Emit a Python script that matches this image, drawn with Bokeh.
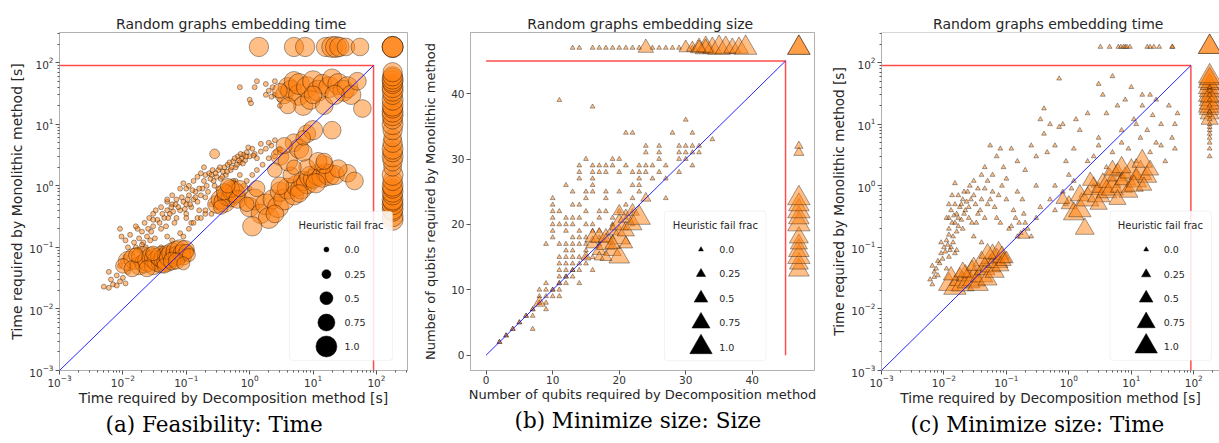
import numpy as np
from bokeh.plotting import figure
from bokeh.models import FixedTicker, Label, Title, BoxAnnotation, Span, ColumnDataSource, Range1d
from bokeh.layouts import row
from bokeh.embed import file_html
from bokeh.resources import INLINE

# ---------------- data ----------------
FAIL_T = 180.0      # value plotted for a failed embedding (time panels)
LIMIT_T = 90.0      # time limit (red lines)
FAIL_Q = 47         # value plotted for a failed embedding (size panel)
LIMIT_Q = 45        # qubit limit (red lines)

legend_fracs = [0.0, 0.25, 0.5, 0.75, 1.0]
legend_labels = ["0.0", "0.25", "0.5", "0.75", "1.0"]

# Panel (a): Feasibility - time ; (x = decomposition, y = monolithic)
a_small = [
    (0.005, 0.023), (0.006, 0.022), (0.007, 0.025), (0.008, 0.024), (0.0065, 0.030), (0.008, 0.035), (0.009, 0.028),
    (0.010, 0.032), (0.011, 0.026), (0.012, 0.040), (0.009, 0.050), (0.010, 0.060), (0.011, 0.070), (0.013, 0.050),
    (0.014, 0.080), (0.012, 0.10), (0.015, 0.12), (0.016, 0.10), (0.018, 0.14), (0.020, 0.18), (0.017, 0.20),
    (0.022, 0.25), (0.019, 0.09), (0.021, 0.12), (0.024, 0.15), (0.025, 0.20), (0.028, 0.18), (0.030, 0.22),
    (0.026, 0.30), (0.030, 0.35), (0.035, 0.28), (0.032, 0.14), (0.040, 0.20), (0.045, 0.30), (0.050, 0.40),
    (0.040, 0.45), (0.055, 0.35), (0.060, 0.50), (0.050, 0.55), (0.065, 0.25), (0.070, 0.30), (0.080, 0.40),
    (0.070, 0.60), (0.090, 0.55), (0.10, 0.50), (0.10, 0.35), (0.11, 0.70), (0.12, 0.45), (0.13, 0.60),
    (0.14, 0.80), (0.15, 0.55), (0.16, 0.40), (0.17, 0.70), (0.18, 0.90), (0.20, 0.65), (0.22, 0.80),
    (0.20, 1.5), (0.23, 1.6), (0.25, 1.5), (0.27, 1.2), (0.30, 1.4), (0.28, 1.0), (0.32, 1.8), (0.35, 1.3),
    (0.38, 1.7), (0.40, 2.0), (0.42, 1.5), (0.45, 2.2), (0.50, 1.8), (0.55, 2.5), (0.60, 2.0), (0.65, 3.0),
    (0.70, 2.4), (0.75, 2.8), (0.80, 3.2), (0.85, 2.6), (0.90, 3.5), (1.0, 3.0), (1.1, 4.0), (1.2, 3.3),
    (1.3, 2.8), (1.5, 3.6), (1.8, 4.0), (2.2, 4.5), (2.6, 3.5), (3.0, 4.0), (1.0, 0.9), (0.12, 0.09),
    (0.015, 0.06), (0.006, 0.04), (0.10, 0.30), (0.15, 0.30), (0.05, 0.15), (0.20, 0.35), (0.04, 0.10),
    (0.025, 0.08), (0.035, 0.06), (0.06, 0.13), (0.08, 0.17), (0.30, 0.60), (0.45, 0.90), (0.60, 1.2),
    (0.70, 1.5), (0.12, 0.25), (0.25, 0.50), (0.009, 0.20), (0.0095, 0.15), (0.011, 0.13), (0.09, 1.1),
    (0.013, 0.16), (0.016, 0.22), (0.018, 0.09), (0.020, 0.11), (0.023, 0.10), (0.027, 0.13), (0.030, 0.28),
    (0.033, 0.40), (0.038, 0.25), (0.042, 0.35), (0.048, 0.22), (0.052, 0.30), (0.058, 0.45), (0.062, 0.38),
    (0.068, 0.50), (0.075, 0.45), (0.085, 0.65), (0.095, 0.42), (0.105, 0.60), (0.115, 0.50), (0.125, 0.85),
    (0.14, 0.65), (0.16, 0.90), (0.19, 1.2), (0.21, 1.0), (0.24, 1.3), (0.26, 1.8), (0.29, 1.6), (0.34, 2.0),
    (0.37, 1.4), (0.44, 1.7), (0.48, 2.4), (0.52, 2.0), (0.58, 2.8), (0.63, 2.2), (0.68, 2.6), (0.72, 3.3),
    (0.78, 2.3), (0.88, 3.0), (0.95, 4.2), (1.15, 3.1), (0.40, 0.75), (0.50, 1.0), (0.55, 1.2), (0.32, 0.90),
    (0.08, 0.90), (0.10, 0.90), (0.11, 1.0), (0.13, 1.2), (0.15, 1.4), (0.17, 1.6), (0.19, 2.0), (0.06, 0.70),
    (0.05, 0.60), (0.09, 0.15), (0.11, 0.20), (0.13, 0.25), (0.17, 0.30), (0.20, 0.40), (0.25, 0.35),
    (0.30, 0.45), (0.40, 0.50), (0.50, 0.55), (0.60, 0.70), (0.70, 0.80), (0.80, 1.0), (0.90, 1.2),
    (1.1, 1.5), (1.3, 1.8), (1.6, 2.2), (2.0, 2.8), (2.5, 3.0), (3.0, 3.5), (2.0, 5.0), (1.5, 4.8), (2.5, 5.5),
    (0.7, 40), (1.0, 25), (1.05, 22), (1.3, 50), (1.8, 45), (2.3, 40), (2.5, 50), (2.0, 35), (2.5, 30),
    (3.0, 25), (3.0, 20), (1.2, 40), (2.2, 28), (1.8, 30),
]
a_big = [
    (0.012, 0.060, 0.9), (0.015, 0.065, 1.0), (0.018, 0.050, 0.8), (0.020, 0.070, 1.0), (0.022, 0.055, 0.9),
    (0.025, 0.060, 1.0), (0.028, 0.070, 0.9), (0.030, 0.050, 0.8), (0.032, 0.065, 1.0), (0.035, 0.060, 1.0),
    (0.040, 0.055, 0.9), (0.040, 0.070, 1.0), (0.045, 0.065, 1.0), (0.050, 0.060, 1.0), (0.050, 0.075, 0.9),
    (0.055, 0.070, 1.0), (0.060, 0.080, 1.0), (0.065, 0.070, 0.9), (0.070, 0.085, 1.0), (0.075, 0.075, 0.9),
    (0.080, 0.090, 1.0), (0.085, 0.080, 0.8), (0.090, 0.070, 0.7), (0.095, 0.090, 0.9), (0.10, 0.085, 0.6),
    (0.010, 0.050, 0.6), (0.014, 0.045, 0.7), (0.024, 0.045, 0.7), (0.045, 0.050, 0.6), (0.060, 0.060, 0.8),
    (0.070, 0.060, 0.7), (0.030, 0.080, 0.6), (0.016, 0.075, 0.6), (0.11, 0.075, 0.5), (0.09, 0.055, 0.5),
    (0.30, 0.50, 0.8), (0.35, 0.60, 0.9), (0.40, 0.55, 1.0), (0.45, 0.70, 1.0), (0.50, 0.65, 0.9),
    (0.55, 0.80, 1.0), (0.60, 0.75, 0.9), (0.50, 0.90, 0.8), (0.40, 0.80, 0.7), (0.65, 0.60, 0.8),
    (0.35, 0.45, 0.6), (0.70, 0.90, 0.7), (0.45, 1.0, 0.6),
    (1.0, 0.45, 0.9), (1.2, 0.6, 1.0), (1.5, 0.35, 0.9), (1.8, 0.5, 1.0), (2.0, 0.3, 1.0), (2.3, 0.6, 0.9),
    (2.8, 0.45, 1.0), (3.0, 0.8, 0.9), (3.5, 0.6, 1.0), (4.0, 0.9, 1.0), (5.0, 0.7, 0.9), (5.5, 1.0, 1.0),
    (6.5, 0.9, 1.0), (7.0, 1.2, 0.9), (8.0, 1.1, 1.0), (9.0, 1.4, 1.0), (10, 1.3, 0.9), (12, 1.5, 1.0),
    (14, 1.4, 1.0), (16, 1.6, 0.9), (18, 1.5, 1.0), (22, 1.5, 0.9), (35, 1.6, 0.8), (45, 1.2, 0.8),
    (1.1, 0.22, 0.9), (2.5, 0.35, 0.8), (1.3, 0.9, 0.7), (0.9, 0.5, 0.6), (3.0, 1.0, 0.8), (6.0, 0.75, 0.8),
    (11, 1.1, 0.9), (25, 1.9, 0.8), (15, 2.2, 0.8), (4.5, 1.5, 0.7), (8.0, 2.0, 0.7),
    (3.0, 3.0, 0.8), (4.0, 2.5, 0.9), (5.0, 5.0, 0.8), (6.0, 4.0, 0.9), (7.0, 3.5, 0.8), (8.0, 7.0, 0.8),
    (10, 8.0, 0.9), (12, 2.5, 0.8), (20, 8.0, 0.8), (2.5, 1.8, 0.6), (3.5, 4.5, 0.7), (7.0, 6.0, 0.6),
    (15, 2.5, 0.7), (5.0, 2.0, 0.6), (0.28, 3.3, 0.3),
    (3.5, 30, 0.8), (4.0, 40, 0.9), (4.5, 35, 1.0), (5.0, 50, 0.9), (6.0, 30, 1.0), (6.0, 45, 1.0),
    (7.0, 20, 0.9), (8.0, 40, 1.0), (9.0, 25, 0.9), (10, 50, 1.0), (12, 35, 1.0), (14, 45, 0.9),
    (15, 20, 0.8), (18, 40, 1.0), (20, 55, 0.9), (25, 45, 1.0), (30, 35, 1.0), (35, 40, 1.0),
    (40, 30, 0.9), (50, 50, 0.8), (60, 18, 0.8), (4.0, 20, 0.7), (3.0, 35, 0.6), (10, 30, 0.8), (22, 30, 0.9),
]
a_fail_top = [(1.4, 0.9), (5.0, 0.9), (7.5, 0.9), (16, 0.9), (20, 1.0), (23, 1.0), (26, 0.9), (33, 0.8), (55, 0.8)]
a_fail_right = [
    (0.28, 1.0), (0.32, 1.0), (0.38, 0.9), (0.42, 1.0), (0.50, 1.0), (0.55, 0.9), (0.60, 1.0), (0.70, 0.9),
    (0.80, 1.0), (0.90, 0.9), (1.0, 1.0), (1.2, 0.9), (1.5, 1.0), (2.0, 0.8), (2.5, 0.9), (3.0, 1.0),
    (3.5, 0.9), (4.0, 1.0), (5.0, 0.9), (6.0, 0.8), (8.0, 0.9), (10, 1.0), (12, 0.9), (14, 1.0), (16, 1.0),
    (18, 0.9), (20, 1.0), (25, 1.0), (30, 0.9), (35, 1.0), (40, 1.0), (45, 0.9), (50, 1.0), (55, 1.0),
    (60, 0.9), (70, 0.9),
]
a_fail_both = [1.0, 1.0, 1.0]

# Panel (b): Minimize size - qubits
b_row_y = [39, 38, 36, 34, 33, 32, 31, 30, 29, 28, 27, 26, 25, 24, 23, 22, 21, 20, 19, 18, 17, 16, 15,
           14, 13, 12, 11, 10, 9, 8, 7, 6, 5, 4, 3, 2]
b_row_x = [
    [11], [16], [30], [21, 22, 28, 31], [34], [24, 26, 29, 30, 31, 32], [24, 26, 29, 30, 31, 32],
    [15, 19, 20, 26, 29, 30], [14, 16, 17, 18, 19, 21, 23, 24, 25, 27, 31],
    [14, 16, 17, 18, 20, 22, 23, 24, 26, 29], [14, 16, 23, 25, 27], [12, 16, 22, 23],
    [13, 15, 16, 18, 20, 23], [10, 15, 18, 22, 27], [10, 13, 14, 21], [10, 11, 15, 17, 18, 20, 22],
    [10, 12, 13, 14, 17, 19, 21], [10, 11, 12, 13, 15, 16, 19, 22], [10, 12, 14, 16, 17],
    [10, 13, 14, 15, 17, 19], [9, 11, 12, 13, 14, 15, 17], [12, 13, 15], [11, 12, 13, 14, 16],
    [11, 12, 13, 15], [11, 12, 13, 14, 16], [11, 12, 13], [9, 11, 12, 14], [8, 9, 10, 11], [8, 10, 11],
    [8, 9], [7, 9], [6, 7], [5], [4, 7], [3], [2],
]
b_diag_extra = [7, 8, 9, 10, 11, 12, 13, 14, 15, 2, 3, 4, 5, 6]
b_big = [
    (16, 17, 0.5), (16, 18, 0.6), (17, 16, 0.5), (17, 18, 0.7), (18, 17, 0.8), (18, 18, 0.6), (19, 16, 0.7),
    (19, 19, 0.5), (20, 15, 0.9), (20, 18, 1.0), (20, 20, 0.8), (21, 19, 0.7), (21, 21, 0.6), (22, 20, 0.8),
    (22, 22, 0.5), (23, 21, 1.0), (20, 22, 0.4), (17, 15, 0.3), (15, 15, 0.3), (8, 8, 0.4), (24, 24, 0.3),
    (19, 17, 0.6), (18, 15, 0.4), (21, 17, 0.5),
]
b_fail_top = [(13, 0.0), (14, 0.0), (16, 0.0), (17, 0.0), (18, 0.0), (19, 0.0), (20, 0.0), (21, 0.0),
              (22, 0.0), (23, 0.0), (25, 0.0), (26, 0.0), (27, 0.0), (28, 0.0), (29, 0.0), (31, 0.0),
              (24, 0.6), (30, 0.5), (31, 0.4), (32, 0.7), (33, 0.9), (34, 0.8), (35, 1.0), (36, 0.9),
              (37, 0.7), (38, 0.8), (39, 1.0), (33, 0.6), (32, 0.5)]
b_fail_right = [(31, 0.3), (32, 0.2), (13, 0.9), (14, 0.8), (15, 1.0), (16, 0.9), (17, 0.7), (18, 0.8),
                (20, 1.0), (21, 0.9), (22, 1.0), (23, 0.9), (24, 1.0)]
b_fail_both = [1.0, 1.0]

# Panel (c): Minimize size - time
c_small = [
    (0.006, 0.03), (0.007, 0.04), (0.0065, 0.05), (0.008, 0.035), (0.008, 0.06), (0.009, 0.08), (0.01, 0.1),
    (0.011, 0.13), (0.009, 0.12), (0.012, 0.07), (0.013, 0.1), (0.012, 0.2), (0.014, 0.15), (0.015, 0.25),
    (0.016, 0.35), (0.015, 0.5), (0.017, 0.3), (0.018, 0.45), (0.013, 0.4), (0.02, 0.2), (0.02, 0.6),
    (0.022, 0.4), (0.025, 0.3), (0.024, 0.8), (0.026, 1.0), (0.03, 0.7), (0.032, 0.5), (0.035, 0.9),
    (0.03, 1.2), (0.028, 0.25), (0.04, 1.5), (0.04, 0.6), (0.045, 2.0), (0.05, 1.2), (0.055, 4.5),
    (0.06, 1.5), (0.06, 0.8), (0.07, 3.0), (0.08, 4.0), (0.09, 2.0), (0.1, 0.6), (0.1, 1.3), (0.12, 4.0),
    (0.13, 0.4), (0.15, 2.5), (0.15, 0.8), (0.18, 0.6), (0.2, 1.8), (0.2, 0.25), (0.22, 0.2), (0.25, 4.5),
    (0.25, 0.15), (0.3, 1.0), (0.3, 3.0), (0.35, 12), (0.4, 7), (0.45, 3.5), (0.5, 0.6), (0.5, 10),
    (0.6, 4.5), (0.6, 1.0), (0.7, 55), (0.7, 9), (0.8, 10), (0.9, 2.5), (1.0, 1.5), (1.1, 0.9), (1.2, 4.0),
    (1.3, 12), (1.5, 8), (1.6, 0.7), (2, 2.5), (2, 15), (2.5, 1.0), (2.5, 3.0), (3, 45), (3, 6), (3.5, 30),
    (4, 2.0), (4, 15), (5, 60), (5, 3.5), (6, 20), (6, 1.5), (7, 8), (8, 25), (9, 4), (10, 40), (11, 12),
    (12, 2.5), (14, 6), (15, 20), (18, 8), (20, 3.5), (22, 14), (25, 5), (30, 10), (35, 2.5), (40, 20),
    (45, 6), (50, 4), (55, 15), (50, 10), (0.011, 0.045), (0.016, 0.09), (0.03, 0.15), (0.04, 0.12),
    (0.035, 0.35), (0.012, 0.3), (0.017, 0.7), (0.07, 0.3), (0.08, 0.25), (0.05, 0.5), (0.3, 0.3),
    (0.35, 0.45), (0.15, 0.15), (0.6, 0.4), (0.9, 0.5), (1.2, 1.2), (0.8, 0.8), (3, 4.5), (7, 5),
    (25, 25), (30, 4.5), (12, 10), (15, 30), (20, 30), (0.4, 18), (0.015, 1.1), (0.17, 0.17),
    (0.0065, 0.025), (0.007, 0.033), (0.0075, 0.045), (0.0085, 0.055), (0.0095, 0.065), (0.0105, 0.085),
    (0.0115, 0.11), (0.0125, 0.09), (0.014, 0.12), (0.016, 0.18), (0.0135, 0.25), (0.0145, 0.33),
    (0.017, 0.22), (0.019, 0.28), (0.021, 0.35), (0.019, 0.5), (0.023, 0.55), (0.021, 0.8), (0.025, 0.45),
    (0.027, 0.6), (0.033, 0.25), (0.038, 0.4), (0.045, 0.3), (0.045, 0.9), (0.055, 0.6), (0.065, 0.45),
    (0.075, 0.7), (0.085, 1.0), (0.11, 0.2), (0.12, 0.22), (0.14, 0.3), (0.16, 0.25), (0.19, 0.35),
    (0.011, 0.3), (0.012, 0.5), (0.0135, 0.7), (0.012, 0.16), (0.015, 0.08),
]
c_big = [
    (0.012, 0.025, 0.9), (0.015, 0.022, 1.0), (0.018, 0.030, 0.9), (0.020, 0.025, 1.0), (0.022, 0.035, 0.8),
    (0.025, 0.028, 1.0), (0.028, 0.040, 0.9), (0.030, 0.030, 1.0), (0.035, 0.025, 0.9), (0.040, 0.035, 1.0),
    (0.045, 0.045, 0.9), (0.050, 0.030, 0.8), (0.055, 0.050, 0.9), (0.060, 0.070, 1.0), (0.065, 0.040, 0.8),
    (0.070, 0.060, 1.0), (0.075, 0.080, 0.9), (0.080, 0.050, 0.7), (0.085, 0.070, 0.8), (0.040, 0.060, 0.7),
    (0.030, 0.050, 0.6), (0.013, 0.035, 0.6), (0.050, 0.080, 0.7), (0.090, 0.060, 0.6), (0.10, 0.065, 0.5),
    (0.020, 0.040, 0.7), (0.19, 0.16, 0.4),
    (1.0, 0.5, 0.6), (1.2, 0.35, 0.9), (1.5, 0.4, 1.0), (1.8, 0.2, 0.8), (1.5, 0.7, 0.8), (2.0, 0.6, 1.0),
    (2.5, 0.9, 0.9), (3.0, 0.7, 1.0), (3.5, 1.0, 1.0), (4.0, 0.8, 0.9), (4.5, 1.2, 1.0), (5.0, 0.9, 1.0),
    (6.0, 1.5, 0.9), (7.0, 1.0, 1.0), (8.0, 1.3, 0.9), (9.0, 0.8, 0.8), (10, 1.7, 1.0), (12, 1.2, 0.9),
    (14, 1.6, 1.0), (15, 2.5, 0.9), (18, 1.4, 0.8), (20, 1.8, 0.7), (2.2, 1.2, 0.6), (0.8, 0.6, 0.5),
    (5.0, 1.8, 0.7), (7.0, 2.0, 0.8), (11, 1.0, 0.8), (3.0, 0.5, 0.7), (6.0, 0.6, 0.7), (16, 1.0, 0.6),
]
c_fail_top = [(3.2, 0.0), (4.5, 0.0), (6.2, 0.0), (6.8, 0.0), (7.5, 0.0), (8.0, 0.0), (8.5, 0.0), (9.5, 0.0),
              (18, 0.0), (20, 0.0), (23, 0.0), (28, 0.0), (45, 0.0), (46, 0.0)]
c_fail_right = [(15, 0.8), (18, 0.9), (20, 1.0), (25, 0.9), (30, 1.0), (35, 0.9), (40, 1.0), (45, 0.8),
                (50, 1.0), (55, 0.9), (60, 1.0), (12, 0.7), (22, 0.9), (28, 0.8),
                (3.0, 0.0), (4.0, 0.0), (5.0, 0.0), (6.0, 0.0), (7.0, 0.0), (8.0, 0.0), (9.0, 0.0), (10, 0.0),
                (12, 0.0), (14, 0.0), (16, 0.0), (20, 0.0), (25, 0.0), (30, 0.0), (35, 0.0), (40, 0.0)]
c_fail_both = [1.0, 1.0]

# ---------------- styling ----------------
ORANGE = "#ff7f0e"
TXT = "#262626"
SPINE = "#b0b0b0"
TICK = "#555555"


def collect(small, big, fail_top, fail_right, both, failv):
    xs, ys, fs = [], [], []
    for x, y in small:
        xs.append(x); ys.append(y); fs.append(0.0)
    for x, y, f in big:
        xs.append(x); ys.append(y); fs.append(f)
    for x, f in fail_top:
        xs.append(x); ys.append(failv); fs.append(f)
    for y, f in fail_right:
        xs.append(failv); ys.append(y); fs.append(f)
    for f in both:
        xs.append(failv); ys.append(failv); fs.append(f)
    return xs, ys, fs


def circ_size(f):
    return 5.0 + 16.0 * f


def tri_size(f):
    return (4.5 + 16.5 * f) * 1.07


def log_ticker(hi):
    minor = [k * 10.0 ** e for e in range(-3, 3) for k in range(2, 10) if k * 10.0 ** e < hi]
    return FixedTicker(ticks=[1e-3, 1e-2, 1e-1, 1.0, 10.0, 100.0], minor_ticks=minor)


def make_fig(width, height, borders, xr, yr, log, title, xlabel, ylabel, label_px, ylab_standoff, xlab_standoff):
    l, r, t, b = borders
    kind = "log" if log else "linear"
    p = figure(width=width, height=height, x_axis_type=kind, y_axis_type=kind,
               x_range=Range1d(*xr), y_range=Range1d(*yr), output_backend="svg",
               toolbar_location=None, min_border_left=l, min_border_right=r,
               min_border_top=t, min_border_bottom=b, title=title)
    p.grid.visible = False
    p.outline_line_color = SPINE
    p.title.align = "center"
    p.title.text_font = "DejaVu Sans"
    p.title.text_font_size = "14px"
    p.title.text_font_style = "normal"
    p.title.text_color = TXT
    p.title.standoff = 1
    p.xaxis.axis_label = xlabel
    p.yaxis.axis_label = ylabel
    for ax in p.axis:
        ax.axis_line_color = SPINE
        ax.major_tick_line_color = TICK
        ax.minor_tick_line_color = TICK
        ax.major_tick_out = 4
        ax.major_tick_in = 0
        ax.minor_tick_out = 2
        ax.minor_tick_in = 0
        ax.major_label_text_font = "DejaVu Sans"
        ax.major_label_text_font_size = "10.5px"
        ax.major_label_text_color = "#333333"
        ax.axis_label_text_font = "DejaVu Sans"
        ax.axis_label_text_font_size = label_px
        ax.axis_label_text_font_style = "normal"
        ax.axis_label_text_color = TXT
    p.xaxis.major_label_standoff = 0 if log else 1
    p.yaxis.major_label_standoff = 2
    p.xaxis.axis_label_standoff = xlab_standoff
    p.yaxis.axis_label_standoff = ylab_standoff
    if log:
        p.xaxis.ticker = log_ticker(xr[1])
        p.yaxis.ticker = log_ticker(yr[1])
    else:
        p.xaxis.ticker = FixedTicker(ticks=[0, 10, 20, 30, 40], minor_ticks=[])
        p.yaxis.ticker = FixedTicker(ticks=[0, 10, 20, 30, 40], minor_ticks=[])
        p.axis.minor_tick_line_color = None
    return p


def frac(rng, f, log):
    a, b = rng
    if log:
        return 10 ** (np.log10(a) + f * (np.log10(b) - np.log10(a)))
    return a + f * (b - a)


def add_caption(p, text, offset, standoff):
    p.add_layout(Title(text=text, align="left", offset=offset, text_font="DejaVu Serif",
                       text_font_size="21.5px", text_font_style="normal", text_color="black",
                       standoff=standoff), "below")


def add_legend(p, xr, yr, log, box, title_xy, mx, mys, tx, marker, sizer):
    fx = lambda f: frac(xr, f, log)
    fy = lambda f: frac(yr, f, log)
    p.add_layout(BoxAnnotation(left=fx(box[0]), right=fx(box[1]), bottom=fy(box[2]), top=fy(box[3]),
                               fill_color="white", fill_alpha=0.85, line_color="#d5d5d5",
                               line_width=1, border_radius=3, level="annotation"))
    p.add_layout(Label(x=fx(title_xy[0]), y=fy(title_xy[1]), text="Heuristic fail frac",
                       text_align="center", text_baseline="middle", text_font="DejaVu Sans",
                       text_font_size="10px", text_color=TXT, level="overlay"))
    src = ColumnDataSource(dict(x=[fx(mx)] * len(mys), y=[fy(v) for v in mys],
                                s=[sizer(f) for f in legend_fracs]))
    r = p.scatter("x", "y", size="s", marker=marker, source=src, fill_color="black",
                  line_color="black", line_width=0.5)
    r.level = "overlay"
    for v, lab in zip(mys, legend_labels):
        p.add_layout(Label(x=fx(tx), y=fy(v), text=lab, text_align="left", text_baseline="middle",
                           text_font="DejaVu Sans", text_font_size="9.5px", text_color=TXT,
                           level="overlay"))


def add_points(p, xs, ys, fs, marker, sizer):
    src = ColumnDataSource(dict(x=xs, y=ys, s=[sizer(f) for f in fs]))
    p.scatter("x", "y", size="s", marker=marker, source=src, fill_color=ORANGE, fill_alpha=0.5,
              line_color="black", line_alpha=0.45, line_width=0.8)


def add_limits(p, lo, lim):
    p.line([lo, lim, lim], [lim, lim, lo], line_color="red", line_alpha=0.7, line_width=1.5)
    p.line([lo, lim], [lo, lim], line_color="blue", line_alpha=0.85, line_width=1)


H = 443
# ---------------- panel (a) ----------------
xa = (1e-3, 10 ** 2.49)
ya = (1e-3, 10 ** 2.49)
pa = make_fig(420, H, (59, 13, 32, H - 32 - 338), xa, ya, True, "Random graphs  embedding time",
              "Time required by Decomposition method [s]", "Time required by Monolithic method [s]",
              "14px", 1, 0)
ax_, ay_, af_ = collect(a_small, a_big, a_fail_top, a_fail_right, a_fail_both, FAIL_T)
add_points(pa, ax_, ay_, af_, "circle", circ_size)
add_limits(pa, 1e-3, LIMIT_T)
add_legend(pa, xa, ya, True, (0.661, 0.957, 0.030, 0.471), (0.809, 0.429), 0.767,
           [0.358, 0.285, 0.214, 0.142, 0.071], 0.819, "circle", circ_size)
add_caption(pa, "(a) Feasibility: Time", 46, 3)

# ---------------- panel (b) ----------------
xb = (-2.35, 49.35)
yb = (-2.35, 49.35)
pb = make_fig(408, H, (38, 14, 26, H - 26 - 346), xb, yb, False, "Random graphs  embedding size",
              "Number of qubits required by Decomposition method",
              "Number of qubits required by Monolithic method", "13px", 10, 0)
b_small = [(x, y) for y, xs in zip(b_row_y, b_row_x) for x in xs] + [(d, d) for d in b_diag_extra]
bx_, by_, bf_ = collect(b_small, b_big, b_fail_top, b_fail_right, b_fail_both, FAIL_Q)
add_points(pb, bx_, by_, bf_, "triangle", tri_size)
add_limits(pb, 0, LIMIT_Q)
add_legend(pb, xb, yb, False, (0.564, 0.859, 0.029, 0.4716), (0.712, 0.43), 0.67,
           [0.358, 0.286, 0.214, 0.141, 0.069], 0.723, "triangle", tri_size)
add_caption(pb, "(b) Minimize size: Size", 44, 3)

# ---------------- panel (c) ----------------
xc = (1e-3, 10 ** (-3 + 341 / 63.0))
yc = (1e-3, 10 ** 2.49)
pc = make_fig(391, H, (50, 0, 32, H - 32 - 338), xc, yc, True, "Random graphs  embedding time",
              "Time required by Decomposition method [s]", "Time required by Monolithic method [s]",
              "13.6px", 1, 0)
pc.outline_line_color = None
pc.add_layout(Span(location=yc[1], dimension="width", line_color=SPINE, line_width=1))
cx_, cy_, cf_ = collect(c_small, c_big, c_fail_top, c_fail_right, c_fail_both, FAIL_T)
add_points(pc, cx_, cy_, cf_, "triangle", tri_size)
add_limits(pc, 1e-3, LIMIT_T)
add_legend(pc, xc, yc, True, (0.676, 0.976, 0.030, 0.472), (0.825, 0.429), 0.783,
           [0.358, 0.285, 0.214, 0.142, 0.071], 0.835, "triangle", tri_size)
add_caption(pc, "(c) Minimize size: Time", 29, 3)

layout = row(pa, pb, pc)
open("out.html", "w").write(file_html(layout, INLINE))
